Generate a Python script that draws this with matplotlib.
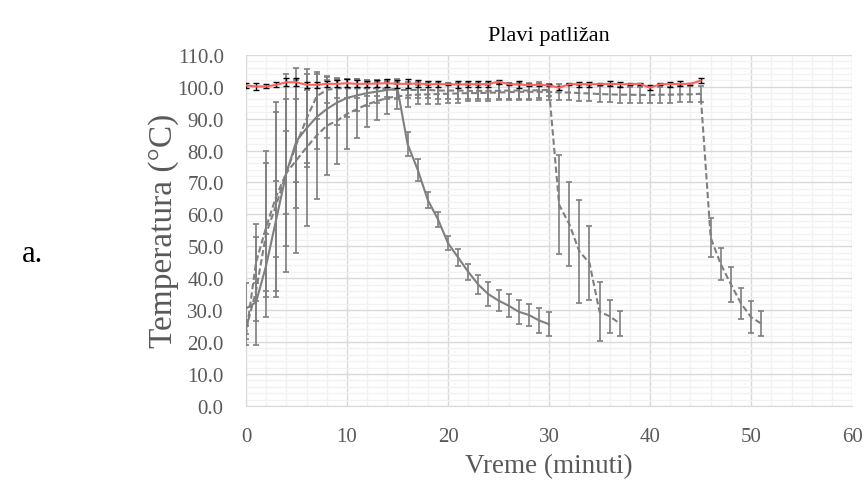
'''
Plavi patlizan - temperatura tokom vremena
'''
import numpy as np
import matplotlib.pyplot as plt
from matplotlib.ticker import MultipleLocator, FormatStrFormatter

plt.rcParams['font.family'] = ['Liberation Serif', 'DejaVu Serif']

# voda (crvena linija)
t_water = np.arange(0, 46, 1)
water = [100.4, 100.1, 100.1, 100.6, 101.4, 101.4, 100.6, 100.6, 100.9, 100.9,
         101.1, 100.9, 100.9, 101.0, 101.1, 100.9, 100.9, 101.0, 100.8, 100.8,
         100.8, 100.7, 100.8, 100.8, 100.8, 101.6, 100.8, 100.7, 100.5, 100.6,
         100.4, 99.7, 100.8, 100.8, 100.8, 100.8, 100.9, 100.8, 100.8, 100.9,
         99.7, 100.8, 100.8, 100.9, 100.9, 101.9]
water_err = [0.8, 1.2, 0.6, 0.8, 1.3, 1.3, 1.0, 1.0, 1.0, 1.1,
             1.2, 1.1, 1.0, 1.0, 1.2, 1.2, 1.4, 1.0, 1.0, 1.0,
             0.3, 1.0, 1.0, 1.0, 1.0, 0.6, 0.3, 1.0, 0.3, 0.3,
             0.3, 0.6, 0.3, 0.8, 0.8, 0.3, 0.8, 0.8, 0.3, 0.3,
             0.7, 0.3, 0.8, 0.8, 0.3, 0.8]

# uzorak 1 (puna linija) - 15 min grejanja
t_s1 = np.arange(0, 31, 1)
s1 = [30.5, 32.5, 44.0, 58.5, 73.0, 83.0, 87.0, 90.5, 93.0, 95.0,
      96.5, 97.3, 98.0, 98.5, 99.0, 99.3, 82.0, 74.0, 64.5, 58.5,
      51.0, 46.5, 42.0, 38.0, 35.0, 33.0, 31.4, 29.5, 28.5, 26.8, 25.6]
s1_err = [8.0, 6.0, 10.0, 12.0, 13.0, 13.0, 12.0, 10.0, 9.0, 7.0,
          6.0, 5.0, 4.0, 3.5, 3.0, 3.0, 3.8, 3.5, 2.5, 2.4,
          2.1, 2.6, 2.5, 3.0, 3.8, 3.2, 3.6, 3.8, 3.5, 3.8, 3.8]

# uzorak 2 (isprekidana) - 30 min grejanja
t_s2 = np.arange(0, 38, 1)
s2 = [22.0, 45.0, 56.0, 65.7, 73.0, 82.0, 90.0, 97.0, 99.0, 99.5,
      99.5, 99.5, 99.5, 99.5, 99.3, 99.0, 99.0, 99.0, 99.0, 98.8,
      98.8, 98.8, 98.7, 98.7, 98.7, 98.7, 98.8, 98.8, 98.8, 98.9,
      99.0, 63.0, 57.0, 48.4, 44.8, 29.5, 28.1, 25.8]
s2_err = [3.0, 12.0, 20.0, 29.6, 23.0, 20.0, 14.0, 7.0, 4.0, 3.0,
          3.0, 3.0, 2.5, 2.5, 2.5, 2.5, 2.5, 2.5, 2.5, 2.5,
          2.5, 2.5, 2.5, 2.5, 2.5, 2.5, 2.5, 2.5, 2.5, 2.5,
          2.0, 15.5, 13.3, 16.0, 11.5, 9.3, 5.2, 4.0]

# uzorak 3 (isprekidana) - 45 min grejanja
t_s3 = np.arange(0, 52, 1)
s3 = [24.0, 36.0, 54.0, 63.0, 73.0, 77.0, 81.0, 84.7, 87.8, 89.3,
      91.5, 93.0, 94.5, 95.5, 96.5, 97.0, 97.3, 97.5, 97.6, 97.7,
      97.8, 97.9, 98.0, 98.0, 98.1, 98.2, 98.3, 98.4, 98.4, 98.4,
      98.4, 98.2, 98.2, 98.0, 97.9, 97.7, 97.6, 97.5, 97.5, 97.4,
      97.4, 97.5, 97.5, 97.6, 97.6, 97.8, 52.7, 44.4, 38.1, 32.1,
      27.8, 25.8]
s3_err = [3.0, 17.0, 26.0, 29.0, 31.0, 29.0, 24.7, 19.8, 15.6, 13.4,
          10.9, 9.0, 7.0, 6.0, 5.0, 4.0, 3.5, 3.0, 3.0, 3.0,
          3.0, 3.0, 2.5, 2.5, 2.5, 2.5, 2.5, 2.5, 2.5, 2.5,
          2.5, 2.5, 2.5, 2.5, 2.5, 2.5, 2.5, 2.5, 2.5, 2.5,
          2.5, 2.5, 2.5, 2.5, 2.5, 2.5, 6.1, 5.0, 5.4, 4.9,
          5.0, 4.0]

gray = '#7f7f7f'
fig = plt.figure(figsize=(8.66, 4.81), dpi=100)
ax = fig.add_axes([0.284, 0.154, 0.700, 0.730])

ax.errorbar(t_s3, s3, yerr=s3_err, color=gray, lw=1.5, ls=(0, (3, 1.5)),
            ecolor=gray, elinewidth=1.2, capsize=2.5, capthick=1.2, zorder=3)
ax.errorbar(t_s2, s2, yerr=s2_err, color=gray, lw=1.5, ls=(0, (3, 1.5)),
            ecolor=gray, elinewidth=1.2, capsize=2.5, capthick=1.2, zorder=3)
ax.errorbar(t_s1, s1, yerr=s1_err, color=gray, lw=1.5, ls='-',
            ecolor=gray, elinewidth=1.2, capsize=2.5, capthick=1.2, zorder=3)
ax.errorbar(t_water, water, yerr=water_err, color='#ff6060', lw=1.5,
            ecolor='black', elinewidth=1.0, capsize=2.5, capthick=1.0, zorder=4)

# Osovine
ax.set_xlim(0, 60)
ax.set_ylim(0, 110)
ax.xaxis.set_major_locator(MultipleLocator(10))
ax.xaxis.set_minor_locator(MultipleLocator(2))
ax.yaxis.set_major_locator(MultipleLocator(10))
ax.yaxis.set_minor_locator(MultipleLocator(2))
ax.yaxis.set_major_formatter(FormatStrFormatter('%.1f'))
ax.grid(which='major', color='#d9d9d9', lw=1.0)
ax.grid(which='minor', color='#f2f2f2', lw=1.0)
ax.set_axisbelow(True)
for s in ['top', 'right']:
    ax.spines[s].set_visible(False)
for s in ['left', 'bottom']:
    ax.spines[s].set_color('#d9d9d9')
ax.tick_params(which='both', length=0, labelsize=15, labelcolor='#595959')
ax.tick_params(axis='x', pad=15)
ax.tick_params(axis='y', pad=16)

# Natpisi
ax.set_title('Plavi patližan', fontsize=16, color='black', pad=11)
ax.set_xlabel('Vreme (minuti)', fontsize=19.5, color='#595959', labelpad=5)
ax.set_ylabel('Temperatura (°C)', fontsize=24, color='#595959')
ax.yaxis.set_label_coords(-0.11, 0.5)
fig.text(0.025, 0.455, 'a.', fontsize=22, color='black')

fig.savefig('out.png', dpi=100)
